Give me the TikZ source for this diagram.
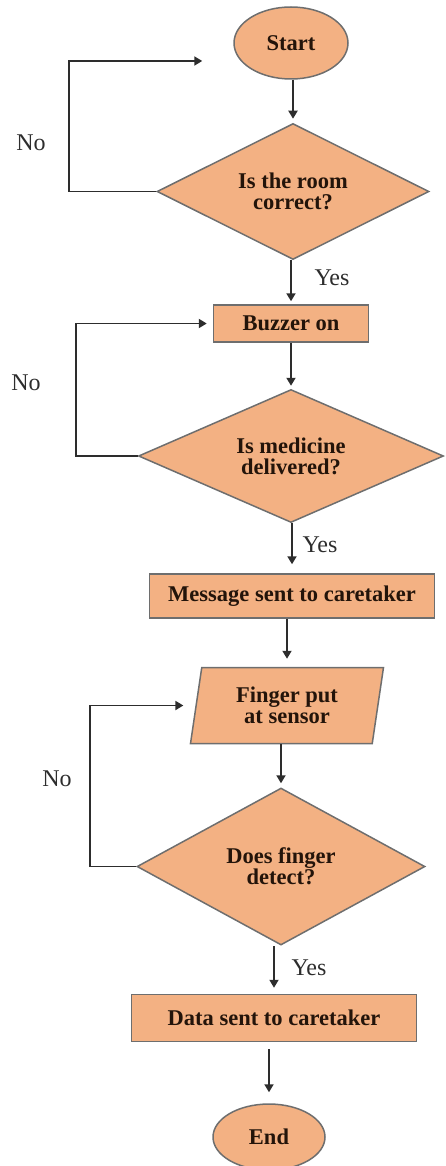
\documentclass[tikz,border=0pt]{standalone}
\usepackage{fontspec}
\setmainfont{Liberation Serif}
\usetikzlibrary{arrows.meta,positioning,shapes.geometric}

\definecolor{boxfill}{RGB}{243,177,131}
\definecolor{boxline}{RGB}{110,110,110}
\definecolor{boxtext}{RGB}{35,20,10}
\definecolor{linegray}{RGB}{45,45,45}

\begin{document}
\begin{tikzpicture}[
x=1pt, y=1pt,
node distance=45pt,
base/.style={draw=boxline, line width=1.5pt, fill=boxfill, text=boxtext, font=\fontsize{22.5}{21}\selectfont\bfseries, align=center, inner sep=0pt},
term/.style={base, ellipse, minimum width=114pt, minimum height=72pt},
box/.style={base, rectangle},
decision/.style={base, diamond, aspect=2},
io/.style={base, trapezium, trapezium left angle=73, trapezium right angle=107, trapezium stretches body, minimum width=193pt, minimum height=76pt},
arrow/.style={-{Triangle[length=8pt,width=9pt]}, draw=linegray, line width=1.8pt},
lbl/.style={font=\fontsize{24}{24}\selectfont, text=linegray}
]

\useasboundingbox (0,0) rectangle (446,-1166);

% Flow steps
\node[term] (start) at (291,-43) {Start};
\node[decision, minimum width=272pt, minimum height=136pt, below=43pt of start, xshift=2pt] (room) {Is the room\\correct?};
\node[box, minimum width=155pt, minimum height=37pt, below=44pt of room, xshift=-2pt] (buzzer) {Buzzer on};
\node[decision, minimum width=305pt, minimum height=133pt, below=46pt of buzzer] (medicine) {Is medicine\\delivered?};
\node[box, minimum width=285pt, minimum height=44pt, below=50pt of medicine, xshift=1pt] (message) {Message sent to caretaker};
\node[io, below=48pt of message, xshift=-5pt] (finger) {Finger put\\at sensor};
\node[decision, minimum width=288pt, minimum height=157pt, below=43pt of finger, xshift=-6pt] (detect) {Does finger\\detect?};
\node[box, minimum width=285pt, minimum height=47pt, below=48pt of detect, xshift=-7pt] (data) {Data sent to caretaker};
\node[term, minimum height=66pt, minimum width=112pt, below=61pt of data, xshift=-5pt] (stop) {End};

% Arrows
\draw[arrow, shorten >=4pt] (room.north |- start.south) -- (room.north);
\draw[arrow, shorten >=3pt] (buzzer.north |- room.south) -- (buzzer.north);
\draw[arrow, shorten >=3pt] (medicine.north |- buzzer.south) -- (medicine.north);
\draw[arrow, shorten >=9pt] (message.north |- medicine.south) -- (message.north);
\draw[arrow, shorten >=8pt] (finger.north |- message.south) -- (finger.north);
\draw[arrow, shorten >=4pt] (detect.north |- finger.south) -- (detect.north);
\draw[arrow, shorten >=6pt] (data.north |- detect.south) -- (data.north);
\draw[arrow, shorten <=7pt, shorten >=11pt] (stop.north |- data.south) -- (stop.north);

% Loops back
\draw[arrow] (room.west) -- ++(-87,0) |- ([shift={(-31,-18)}]start.west);
\draw[arrow, shorten >=6pt] (medicine.west) -- ++(-62,0) |- (buzzer.west);
\draw[arrow, shorten >=12pt] (detect.west) -- ++(-46,0) |- (finger.west);

% Labels
\node[lbl] (no1) at (31,-143) {No};
\node[lbl] (no2) at (26,-383) {No};
\node[lbl] (no3) at (57,-779) {No};
\node[lbl] (yes1) at (332,-278) {Yes};
\node[lbl] (yes2) at (320,-545) {Yes};
\node[lbl] (yes3) at (309,-968) {Yes};

\end{tikzpicture}
\end{document}
